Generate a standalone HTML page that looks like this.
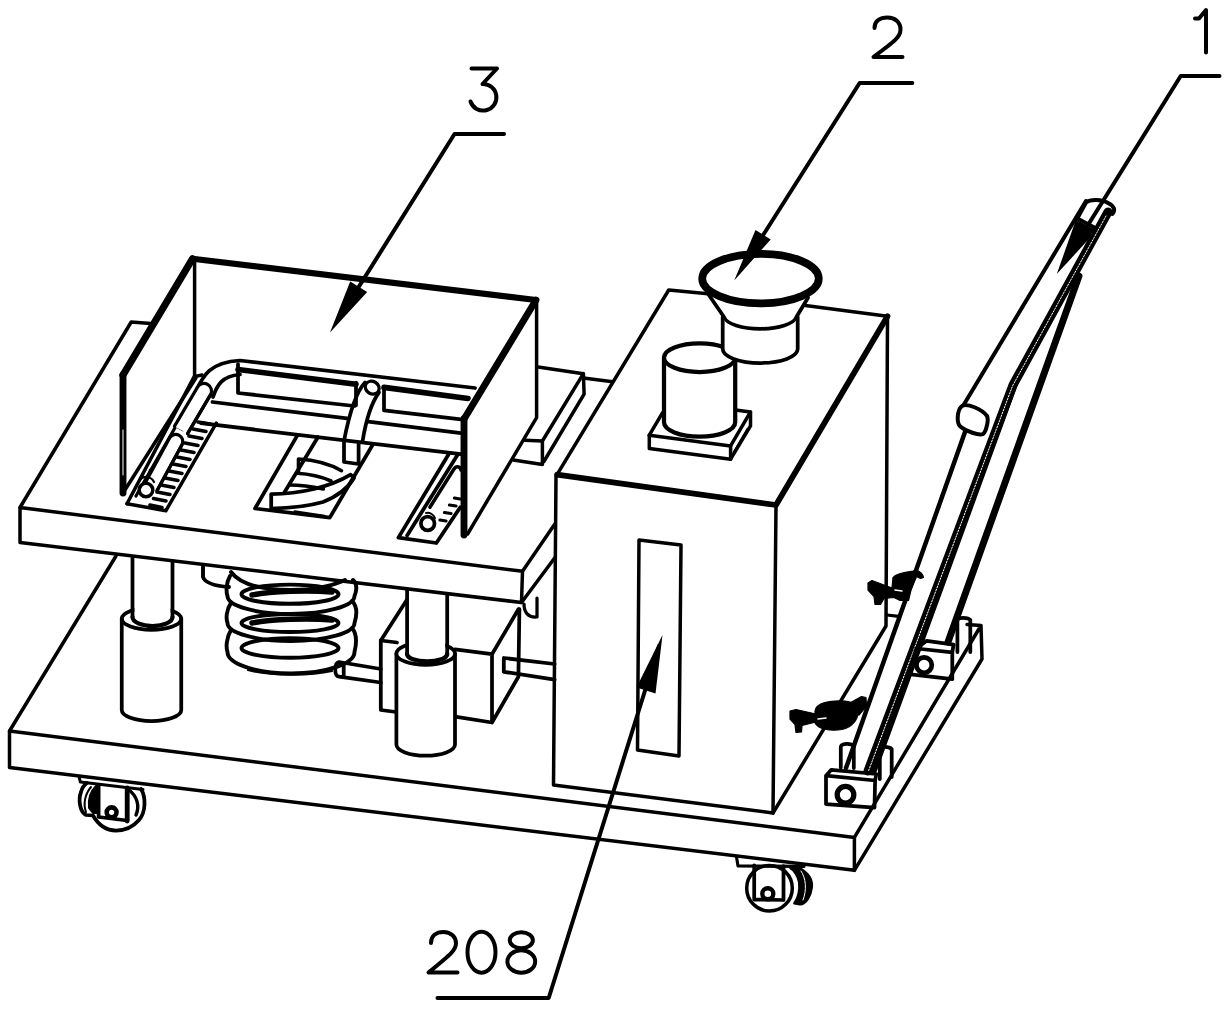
<!DOCTYPE html>
<html><head><meta charset="utf-8"><style>
html,body{margin:0;padding:0;background:#fff;}
svg{display:block;}
</style></head><body>
<svg width="1230" height="1014" viewBox="0 0 1230 1014">
<rect x="0" y="0" width="1230" height="1014" fill="#fff"/>
<g fill="none" stroke="#000" stroke-width="3.50" stroke-linecap="round" stroke-linejoin="round">

<!-- ============ LABELS ============ -->
<g stroke-width="4.0">
  <!-- 3 -->
  <path d="M471.5,68.5 L497,68.5 L482.5,84 A13.3,13.3 0 1 1 470.5,101.5"/>
  <!-- 2 -->
  <path d="M874.5,28 C874.5,21 880,17.5 887.5,17.5 C895,17.5 900.5,22 900.5,29.5 C900.5,37 895,41 873.5,57 L902.5,57"/>
  <!-- 1 -->
  <path d="M1195,18.5 L1199,18.5 L1206,10 L1206,52.5"/>
  <!-- 208 -->
  <path d="M431,943 C431,936 436,932 443.5,932 C451,932 456,937 456,943.5 C456,950 451,954 428.5,972.5 L457.5,972.5"/>
  <ellipse cx="481.5" cy="952.2" rx="14" ry="20.5"/>
  <ellipse cx="521.3" cy="940.2" rx="11.6" ry="8"/>
  <ellipse cx="521.3" cy="961.5" rx="13.9" ry="11.2"/>
</g>
<!-- leaders -->
<path d="M504,134 L454.5,134 L338,320" stroke-width="4.00"/>
<path d="M912.3,83 L859.6,83 L741,270" stroke-width="4.00"/>
<path d="M1219.5,76 L1180.7,76 L1065,262" stroke-width="4.00"/>
<path d="M437.5,998 L548.7,998 L659,646" stroke-width="4.00"/>

<!-- ============ BASE PLATE ============ -->
<path d="M9.5,731 L854.4,837.4 L854.4,870.3 L9.5,767.5 Z"/>
<path d="M9.5,731 L116,556"/>
<path d="M854.4,837.4 L981,625.5 L982,659 L854.4,870.3 M967,624.5 L981,625.5"/>

<!-- casters -->
<g>
  <path d="M79.1,777.2 L80.4,782 L143,789.5" stroke-width="3"/>
  <path d="M141,789 C146,797 146,812 139,820 C133,827 125,830.5 116,830.5 C107,830.5 99,826 93,815.5 L86,815 C80,812 78,800 81,792 C82,788 84,785 87,783" stroke-width="3.75"/>
  <path d="M96,786 C90,792 88,800 89,808 L93,813 L98.6,813 L98.6,786 Z" fill="#000" stroke-width="2"/>
  <path d="M91,787 C85,794 83,804 86,812" stroke-width="2"/>
  <path d="M98.6,785 L98.6,817 L127.2,820.5 L127.2,788" stroke-width="3.75"/>
  <path d="M127.2,788 L127.2,821" stroke-width="4.8"/>
  <path d="M129,790 C137,796 140,806 136,815" stroke-width="3.4"/>
  <circle cx="111.6" cy="812.3" r="4.9" stroke-width="4.6"/>
</g>
<g>
  <path d="M736.6,857.6 L738,866 L804,866.4" stroke-width="3.12"/>
  <ellipse cx="769.5" cy="888.2" rx="22.8" ry="22.8" stroke-width="3.5"/>
  <path d="M797,866.4 C808,872 813,880 811.8,888 C811,896 806,904 800,904.5 L794.2,903.5 C798,898 800,890 799,882 C798,876 794,870 790.3,868.3 Z" fill="#000" stroke-width="2.2"/>
  <path d="M801,871 C806,878 807,890 803,900" stroke="#fff" stroke-width="1"/>
  <path d="M754.2,865.4 L754.2,899.6 L783.5,900 L783.5,866" stroke-width="3.75"/>
  <circle cx="767.8" cy="893.7" r="5.5" stroke-width="4.38"/>
</g>

<!-- ============ UPPER PLATE ============ -->
<path d="M20,507.5 L522.5,571.25 L521.5,602.5 L20,542.5 Z"/>
<path d="M20,507.5 L131.2,322 L150.8,323.6"/>
<path d="M522.5,571.25 L555,523.75"/>
<path d="M521.5,602.5 L555,557.5"/>
<!-- back-right raised block -->
<path d="M538,367 L583.4,373.7 L584.1,394.2 L543.9,461.5"/>
<path d="M583.4,373.7 L542.4,441 L524.9,440.2"/>
<path d="M542.4,442 L542.4,464.4 L513.2,460"/>
<path d="M583.4,378 L612.7,381.7"/>

<!-- ============ SUPPORT: pillars, spring, motor block ============ -->
<!-- left pillar -->
<path d="M121.75,618.75 L121.75,710 A29.75,11 0 0 0 181.25,710 L181.25,618.75" stroke-width="3.75"/>
<ellipse cx="151.5" cy="618.75" rx="29.75" ry="11" stroke-width="3.75"/>
<rect x="134.4" y="600" width="36.2" height="17" fill="#fff" stroke="none"/>
<path d="M132.5,557 L132.5,617 M172.5,561 L172.5,617" stroke-width="3.75"/>
<path d="M132.5,617 A20,9 0 0 0 172.5,617" stroke-width="4.2"/>
<!-- spring -->
<g stroke-width="3.9">
  <path d="M203,566 L203,577 C205,583 215,586 229,587"/>
  <path d="M231,572 C240,584 258,590 291,590 C315,590 332,586 345,580"/>
  <path d="M230,576 C226,583 226,592 227.5,596 A63.5,18 0 0 0 354.5,596 C357,590 357,584 353,580"/>
  <ellipse cx="290" cy="594.2" rx="48.5" ry="9.6"/>
  <path d="M252,595 C270,591 310,590 332,592" stroke-width="5.5"/>
  <path d="M231,603 C226,610 226,619 227.5,623 A63.5,18 0 0 0 354.5,623 C357,615 357,606 352,601"/>
  <ellipse cx="290" cy="623" rx="48.5" ry="9"/>
  <path d="M252,623 C270,619 310,618 332,620" stroke-width="5.5"/>
  <path d="M231,630 C226,638 226,648 227.5,652 A63.5,21.5 0 0 0 354.5,652 C357,642 357,634 352,628"/>
  <ellipse cx="290" cy="648" rx="48.5" ry="9.8"/>
  <path d="M248,670 C270,676 310,676 332,671" stroke-width="2.2"/>
</g>
<!-- motor block -->
<g stroke-width="3.75">
  <path d="M407.1,599.5 L380.8,640.5 L380.8,710 L396,712"/>
  <path d="M380.8,640.5 L397,642.5"/>
  <path d="M455,649.3 L492,654.2 L518.4,609.3 M492,654.2 L492,722.5 L455,716.7 M492,722.5 L518.4,676.7 L519.4,609"/>
</g>
<!-- right pillar -->
<path d="M396.4,653.7 L396.4,744.5 A29.3,11.2 0 0 0 455,744.5 L455,653.7" fill="#fff" stroke-width="3.75"/>
<path d="M396.4,653.7 A29.3,11.2 0 0 1 455,653.7 A29.3,11.2 0 0 1 396.4,653.7" fill="#fff" stroke-width="3.75"/>
<rect x="409" y="620" width="36.3" height="34" fill="#fff" stroke="none"/>
<path d="M407.1,590 L407.1,654 M447.2,594.5 L447.2,654" stroke-width="3.75"/>
<path d="M407.1,654 A20,7.5 0 0 0 447.2,654" stroke-width="4.38"/>
<!-- shafts -->
<path d="M380.8,669 L339,662 C334,663 334,676 339,676.7 L380.8,682.5 M343.7,663 L343.7,677" stroke-width="3.75"/>
<path d="M554.6,664 L503.8,658 L503.8,671.8 L554.6,679.6" stroke-width="3.75"/>
<!-- coupling at plate right -->
<path d="M524,604 C524,612 528,618 537,617 L537,598" stroke-width="3.25"/>

<!-- ============ HANDLE ============ -->
<path d="M1086,201 L960,411" stroke-width="4.00"/>
<path d="M1108,212 L1013,385 L868,771" stroke-width="9"/>
<path d="M1014,386 L873.5,771" stroke-width="6.5"/>
<path d="M1106,216 L1012.5,386 L868.5,771" stroke="#fff" stroke-width="1" stroke-dasharray="1.5 1.5"/>
<path d="M1079,276 L948,642" stroke-width="6.88"/>
<path d="M965,432 L846,768" stroke-width="4.50"/>
<!-- top cap -->
<path d="M1077.5,218 L1086,202.5 C1090,199 1102,199 1108,203 C1114,206 1116,210 1112.4,214" stroke-width="4.00"/>
<path d="M1077.3,218.3 L1096.3,228.5" stroke-width="3.75"/>
<!-- lower cap -->
<path d="M962,406 C967,403 982,409 987,416 C989,420 986,432 983,434 C979,436 966,431 961,427 C956,424 957,410 962,406 Z" fill="#fff" stroke-width="4.00"/>

<!-- brackets -->
<g stroke-width="3.75">
  <path d="M840.8,767.5 L840.8,747 C841,743 851,743 853.8,746 L853.8,768"/>
  <path d="M879.8,779 L879.8,749 C880,746 889,746 891.7,749 L891.7,777"/>
  <path d="M826,775.7 L831.3,769.8 L876.3,774 L875.1,780.5 L826,775.7 L826,804.1 L874.5,807.7 L875.1,780.5"/>
  <circle cx="845.5" cy="794.7" r="8.3" stroke-width="5.25"/>
  <path d="M957.4,652 L957.4,620 C958,617 968,617 970.3,620 L970.3,652"/>
  <path d="M916.4,648.5 L926.7,640.8 L953.6,644.6 L952.3,652.3 Z M908.7,674.1 L916.4,648.5 M908.7,674.1 L952.3,679.2 L952.3,652.3"/>
  <circle cx="924.1" cy="665.1" r="7.7" stroke-width="4.75"/>
</g>
<!-- clamps -->
<g fill="#000" stroke="#000" stroke-width="1.2" stroke-linejoin="round">
  <path d="M868,583 L872,580.5 L892,588 L893,577.5 C896,573.5 905,572 913,571 L916,570 C920,571.5 923,574 923.5,577.5 L920.5,578.5 L916.5,576.5 L911,590 L908.5,600.5 L900,600.5 L894,597.5 L884,598.5 L880.5,604.5 L875,604.5 L874,596.5 L868,590 Z"/>
  <path d="M815,711 C816,703 830,700 845,701 C853,702 858,706 858,712 C858,720 852,727 842,729.5 C830,731.5 818,729 815,723 Z"/>
  <path d="M790,711 L796,709.5 L816,714 L816,722 L802,725.5 L801.5,732 L796,732.5 L795,724.5 L790,719 Z"/>
  <path d="M848,704 L861.5,696.5 L866,697.5 L866.5,706 L859,715 L851,716.5 Z"/>
</g>
<path d="M895,590 L902,591" stroke="#fff" stroke-width="1.6"/>
<path d="M818,719 L826,718" stroke="#fff" stroke-width="1.6"/>
<path d="M887,615 L898.5,616.4" stroke-width="3.25"/>

<!-- ============ TRAY ============ -->
<path d="M123,375 L192.5,258.75" stroke-width="7.2"/>
<path d="M192.5,258.75 L536,300" stroke-width="6.2"/>
<path d="M536,300 L464.4,418.6" stroke-width="6.8"/>
<path d="M123,375 L123,493" stroke-width="6.88"/>
<path d="M123,430 L123,475" stroke="#fff" stroke-width="1"/>
<path d="M123,493 L196,377.7"/>
<path d="M194.6,262 L194.6,376"/>
<path d="M464,418.6 L464,535" stroke-width="6.88"/>
<path d="M536.6,300 L536.6,417.6 L467.6,534"/>

<!-- tube top / back -->
<path d="M196,391 C203,376 210,362 240,360.5 L475,388" stroke-width="3.75"/>
<path d="M213,397 C217,385 222,376 240,374.5" stroke-width="3.75"/>
<!-- clamp blocks -->
<path d="M238,369.5 L356,384.2" stroke-width="5.62"/>
<path d="M238,364 L238,393 L354.5,406 M356,382.5 L356,405.3" stroke-width="3.75"/>
<path d="M384,387.4 L468,398.5" stroke-width="5.62"/>
<path d="M384,387 L384,410.4 L461,419.4" stroke-width="3.75"/>
<!-- crossbars -->
<path d="M212.5,402 L347,418.3 M368.3,421.6 L461,433.2" stroke-width="3.75"/>
<path d="M201,423.2 L461,454.2" stroke-width="3.75"/>
<!-- hook -->
<path d="M365,382.5 C356,392 350,410 344,441 M379,392.3 C372,402 366,420 362.6,441" stroke-width="3.75"/>
<ellipse cx="372.2" cy="387.6" rx="7.2" ry="6.2" transform="rotate(30 372.2 387.6)" stroke-width="3.25"/>
<path d="M344,442 L344,462 L358.6,464 L358.6,444" stroke-width="3.75"/>

<!-- left rail -->
<path d="M127,503.7 L194.2,376.6 L202,375" stroke-width="3.5"/>
<path d="M127,503.7 L165.8,510.8 L216.3,423.2" stroke-width="3.5"/>
<path d="M136,496 L196,391" stroke-width="3.2"/>
<path d="M150,470 L157,474 M163,448 L170,452 M176,426 L183,430 M189,404 L196,408" stroke-width="2.6"/>

<path d="M144.9,483.6 L169.9,437.6 A7,7 0 0 1 182.1,444.4 L157.1,490.4" fill="#fff" stroke-width="3.2"/>
<path d="M174.4,426.4 L197.4,387.4 A7.5,7.5 0 0 1 210.6,394.6 L187.6,433.6" fill="#fff" stroke-width="3.2"/>
<path d="M157.1,490.4 L182.1,444.4 M187.6,433.6 L210.6,394.6" stroke-width="3.2"/>
<circle cx="146" cy="490" r="6.8" fill="#fff" stroke-width="3.5"/>
<path d="M139,481 C143,475 151,476 154,482" stroke-width="2.2"/>
<g stroke-width="3.6">
  <path d="M150,505 L162,507.5 M153.5,498.5 L166,501 M157,492 L170,494.5 M161,485 L174,487.5 M165,478 L178,480.5 M169,471 L182,473.5 M173,464 L186,466.5 M177,457 L190,459.5 M181,450 L194,452.5 M185,443 L198,445.5 M189,436 L202,438.5 M193,429 L206,431.5 M198,422 L210,424"/>
</g>

<!-- center slot -->
<path d="M297.2,435.6 L255,508.5 L329.8,517.6 L372.7,444.7" stroke-width="3.75"/>
<path d="M284.2,492.8 L318,437" stroke-width="3.75"/>
<path d="M271.2,494 C300,494 330,487 350.6,474.6 L354,478 C348,488 338,496 323,502 C305,507 290,508 271.2,508.5 Z" stroke-width="3.75"/>
<path d="M298.5,472 L298.5,459 C315,460 330,464 341.5,470.7 M297,473.3 C310,474 322,477 331,481 M289.4,485 C302,485 314,487 323.3,489" stroke-width="3.6"/>
<path d="M294.6,511.5 L324.5,516" stroke-width="2.4"/>

<!-- right rail -->
<path d="M449.4,453 L398.4,537.6 L436.4,543 L460.3,507.2" stroke-width="3.75"/>
<path d="M407.1,535.4 L458.1,454.1" stroke-width="3.75"/>
<path d="M429.9,507.2 L453.8,469.3 C456,465.5 460,466 461,470" stroke-width="3.5"/>
<circle cx="427.7" cy="523.5" r="6.8" stroke-width="3.75"/>
<path d="M426,513 C430,512 434,515 435,518" stroke-width="2"/>
<path d="M440,520 L446,521 M444.5,512.5 L451,513.5 M449.5,505 L456,506 M454.5,498 L460,499" stroke-width="3.2"/>

<!-- ============ FRONT BOX (208) ============ -->
<path d="M556,476 L553.5,785 L773,813 L776,505"/>
<path d="M557,474.6 L776,505 L887.5,316.25" stroke-width="5.75"/>
<path d="M557,474.6 L668.75,290 L708,293.8"/>
<path d="M805.4,305.4 L887.5,316.25 L886,626 L773,813"/>
<path d="M639,540 L681,545 L679,756 L637.5,750 Z"/>

<!-- motor on top -->
<path d="M649.3,435.2 L730.6,445.9 L750.5,411.9 L735.5,409.9"/>
<path d="M649.3,435.2 L649.3,448.5 L730.6,459.2 L750.5,425.9 L750.5,411.9"/>
<path d="M730.6,445.9 L730.6,459.2"/>
<path d="M649.3,435.2 L662.6,412.6"/>
<path d="M734,452 L747.5,429" stroke-width="2.25"/>
<path d="M664,357.7 L664,422.3 A35.6,14.3 0 0 0 735.2,422.3 L735.2,357.7" fill="#fff" stroke-width="4.25"/>
<ellipse cx="699.6" cy="357.7" rx="35.6" ry="14.3" fill="#fff" stroke-width="4.25"/>

<!-- funnel -->
<path d="M722.7,317 L722.7,349 A37.5,14 0 0 0 797.7,349 L797.7,317" fill="#fff" stroke-width="3.75"/>
<path d="M708,293.8 L724,317 A36.5,13.5 0 0 0 796.4,317 L808,297.7" fill="#fff" stroke-width="3.75"/>
<ellipse cx="760.5" cy="278.6" rx="58.3" ry="24.8" fill="#fff" stroke-width="7.75"/>

<!-- arrowheads -->
<g fill="#000" stroke="none">
  <path d="M330,332.5 L367.2,292.1 L350.2,281.5 Z"/>
  <path d="M734.2,280.4 L770.7,239.6 L755.5,230 Z"/>
  <path d="M1056.8,274 L1096.7,230.5 L1076,219.5 Z"/>
  <path d="M662.5,635 L655.5,693.5 L636.5,687.5 Z"/>
</g>

</g>
</svg>
</body></html>
